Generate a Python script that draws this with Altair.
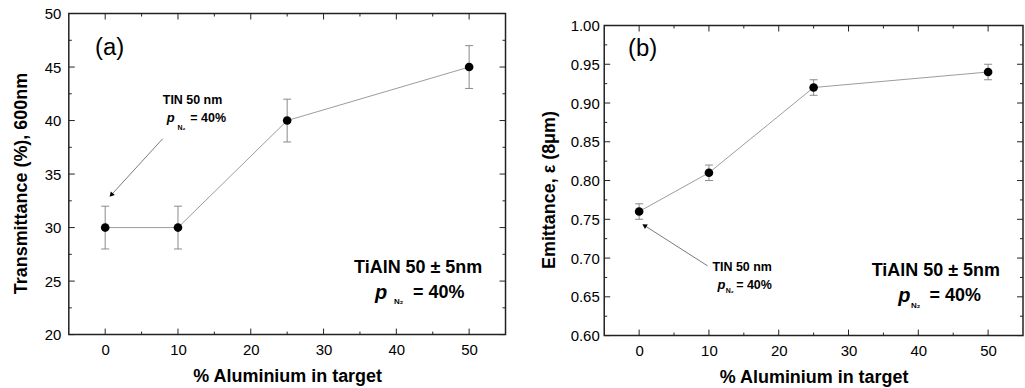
import altair as alt
import pandas as pd

FONT = "Liberation Sans"

# ---- data ----
aluminium = [0, 10, 25, 50]
transmittance = [30, 30, 40, 45]
trans_err = [2, 2, 2, 2]
emittance = [0.76, 0.81, 0.92, 0.94]
emit_err = [0.01, 0.01, 0.01, 0.01]

x_major = [0, 10, 20, 30, 40, 50]
x_minor = [5, 15, 25, 35, 45]
ya_major = [20, 25, 30, 35, 40, 45, 50]
ya_minor = [22.5, 27.5, 32.5, 37.5, 42.5, 47.5]
yb_major = [0.60, 0.65, 0.70, 0.75, 0.80, 0.85, 0.90, 0.95, 1.00]
yb_minor = [0.625, 0.675, 0.725, 0.775, 0.825, 0.875, 0.925, 0.975]

one = pd.DataFrame({"k": [0]})
FRAME = "#222222"


def txt(text, x, y, size, bold=True, italic=False, align="center", color="black"):
    return alt.Chart(one).mark_text(
        text=text, font=FONT, fontSize=size, fontWeight="bold" if bold else "normal",
        fontStyle="italic" if italic else "normal", align=align, baseline="middle", color=color
    ).encode(x=alt.datum(x), y=alt.datum(y))


def arrow(x1, y1, x2, y2, angle):
    line = alt.Chart(one).mark_rule(color="#7a7a7a", strokeWidth=1).encode(
        x=alt.datum(x1), y=alt.datum(y1), x2=alt.datum(x2), y2=alt.datum(y2))
    head = alt.Chart(one).mark_point(shape="triangle", filled=True, size=30, angle=angle,
                                     color="black", opacity=1).encode(
        x=alt.datum(x2), y=alt.datum(y2))
    return [line, head]


def panel(yvals, yerr, ydom, ymaj, ymin, W, H, yfmt, ytitle, ylab_pad, ytitle_pad, annotations):
    df = pd.DataFrame({
        "x": aluminium, "y": yvals,
        "lo": [v - e for v, e in zip(yvals, yerr)],
        "hi": [v + e for v, e in zip(yvals, yerr)],
    })
    xs = alt.Scale(domain=[-5, 55], nice=False, zero=False)
    ys = alt.Scale(domain=ydom, nice=False, zero=False)
    base = alt.Chart(df)
    xaxis = alt.Axis(values=x_major, title="% Aluminium in target", ticks=False, grid=False,
                     domain=False, labelPadding=8, titlePadding=10, labelFont=FONT,
                     labelFontSize=15, labelColor="black", titleFont=FONT, titleFontSize=18,
                     titleFontWeight="bold", titleColor="black", labelFlush=False,
                     labelOverlap=False, tickCount=30)
    yaxis = alt.Axis(values=ymaj, format=yfmt, title=ytitle, ticks=False, grid=False,
                     domain=False, labelPadding=ylab_pad, titlePadding=ytitle_pad, labelFont=FONT,
                     labelFontSize=15, labelColor="black", titleFont=FONT, titleFontSize=18,
                     titleFontWeight="bold", titleColor="black", titleY=H / 2 + 9,
                     labelOverlap=False, tickCount=30)
    line = base.mark_line(color="#9c9c9c", strokeWidth=1).encode(
        x=alt.X("x:Q", scale=xs, axis=xaxis), y=alt.Y("y:Q", scale=ys, axis=yaxis))
    err = base.mark_rule(color="#8a8a8a", strokeWidth=1).encode(
        x=alt.X("x:Q"), y=alt.Y("lo:Q"), y2="hi:Q")
    cap_lo = base.mark_tick(color="#8a8a8a", thickness=1, size=8, orient="horizontal", opacity=1).encode(
        x=alt.X("x:Q"), y=alt.Y("lo:Q"))
    cap_hi = base.mark_tick(color="#8a8a8a", thickness=1, size=8, orient="horizontal", opacity=1).encode(
        x=alt.X("x:Q"), y=alt.Y("hi:Q"))
    pts = base.mark_circle(color="black", size=75, opacity=1).encode(
        x=alt.X("x:Q"), y=alt.Y("y:Q"))

    layers = [line, err, cap_lo, cap_hi, pts]
    for vals, L in ((x_major, 6), (x_minor, 3)):
        c = alt.Chart(pd.DataFrame({"t": vals}))
        enc = alt.X("t:Q")
        layers.append(c.mark_rule(color=FRAME, strokeWidth=1).encode(
            x=enc, y=alt.value(H), y2=alt.value(H - L)))
        layers.append(c.mark_rule(color=FRAME, strokeWidth=1).encode(
            x=enc, y=alt.value(0), y2=alt.value(L)))
    for vals, L in ((ymaj, 6), (ymin, 3)):
        c = alt.Chart(pd.DataFrame({"t": vals}))
        enc = alt.Y("t:Q")
        layers.append(c.mark_rule(color=FRAME, strokeWidth=1).encode(
            y=enc, x=alt.value(0), x2=alt.value(L)))
        layers.append(c.mark_rule(color=FRAME, strokeWidth=1).encode(
            y=enc, x=alt.value(W), x2=alt.value(W - L)))
    layers += annotations
    return alt.layer(*layers).properties(width=W, height=H)


ann_a = [
    txt("(a)", 0.6, 46.8, 24, bold=False),
    *arrow(7.9, 38.3, 0.9, 33.1, 223),
    txt("TIN 50 nm", 12.0, 41.9, 12.5),
    txt("p", 9.0, 40.2, 13, italic=True),
    txt("N₂", 10.5, 39.3, 7),
    txt("= 40%", 11.7, 40.2, 12.5, align="left"),
    txt("TiAlN 50 ± 5nm", 43.0, 26.2, 18),
    txt("p", 37.9, 23.9, 20, italic=True),
    txt("N₂", 40.3, 23.0, 8),
    txt("= 40%", 42.3, 23.9, 18, align="left"),
]

ann_b = [
    txt("(b)", 0.5, 0.970, 24, bold=False),
    *arrow(9.8, 0.690, 0.85, 0.7415, 302),
    txt("TIN 50 nm", 10.5, 0.6891, 12.5, align="left"),
    txt("p", 11.8, 0.6656, 13, italic=True),
    txt("N₂", 13.0, 0.658, 7),
    txt("= 40%", 13.9, 0.6656, 12.5, align="left"),
    txt("TiAlN 50 ± 5nm", 42.5, 0.6836, 18),
    txt("p", 38.0, 0.6515, 20, italic=True),
    txt("N₂", 39.6, 0.6386, 8),
    txt("= 40%", 41.6, 0.6515, 18, align="left"),
]

pa = panel(transmittance, trans_err, [20, 50], ya_major, ya_minor, 438, 322, "d",
           "Transmittance (%), 600nm", 8, 14, ann_a)
pb = panel(emittance, emit_err, [0.60, 1.00], yb_major, yb_minor, 420, 311, ".2f",
           "Emittance, ε (8μm)", 5, 12, ann_b)

spacer = alt.Chart(one).mark_point(opacity=0, size=1).encode(
    x=alt.value(10), y=alt.value(1)
).properties(width=420, height=3, view=alt.ViewBackground(stroke="transparent"))

right = alt.vconcat(spacer, pb, spacing=0)

chart = alt.hconcat(pa, right, spacing=32).properties(
    padding={"left": 11, "top": 5, "right": 0, "bottom": 0}
).configure_view(stroke=FRAME, strokeWidth=1.5)

chart.save("out.html", embed_options={"renderer": "svg", "actions": False})
